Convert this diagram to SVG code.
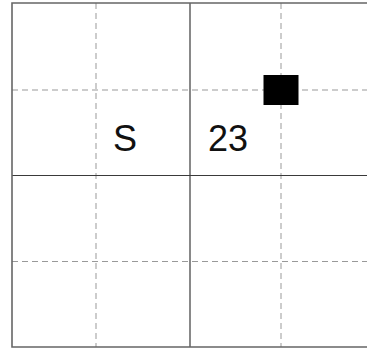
<svg xmlns="http://www.w3.org/2000/svg" width="367" height="349" viewBox="0 0 367 349">
<style>
.solid{stroke:#3a3a3a;stroke-width:1.2;fill:none}
.border{stroke:#666;stroke-width:1.6;fill:none}
.dash{stroke:#999;stroke-width:1;stroke-dasharray:6 4;fill:none}
.lbl{font-family:"Liberation Sans",Arial,sans-serif;font-size:36px;fill:#111}
</style>
<rect width="367" height="349" fill="#fff"/>
<g id="grid">
<line class="dash" x1="96" y1="3" x2="96" y2="347"/>
<line class="dash" x1="281" y1="3" x2="281" y2="347"/>
<line class="dash" x1="12" y1="90" x2="367" y2="90"/>
<line class="dash" x1="12" y1="261.5" x2="367" y2="261.5"/>
<line class="solid" x1="190" y1="3" x2="190" y2="347"/>
<line class="solid" x1="12" y1="175.5" x2="367" y2="175.5"/>
<path class="border" d="M367 3 H12 V347 H367"/>
</g>
<g id="square"><rect x="263.5" y="75" width="35" height="30" fill="#000"/></g>
<g id="label-S"><text class="lbl" x="113" y="151">S</text></g>
<g id="label-23"><text class="lbl" x="208" y="151">23</text></g>
</svg>
